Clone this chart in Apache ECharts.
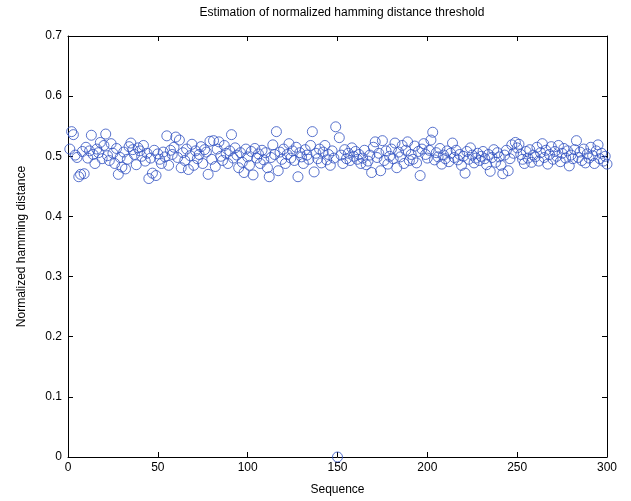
<!DOCTYPE html>
<html>
<head>
<meta charset="utf-8">
<script src="https://cdn.jsdelivr.net/npm/echarts@6/dist/echarts.min.js"></script>
<style>
  html, body { margin: 0; padding: 0; background: #fff; }
  #chart { width: 631px; height: 501px; }
</style>
</head>
<body>
<div id="chart"></div>
<script>
// 标题与坐标轴
const titleText = 'Estimation of normalized hamming distance threshold'
const xName = 'Sequence'
const yName = 'Normalized hamming distance'
const xTicks = [0, 50, 100, 150, 200, 250, 300]
const yTicks = [0, 0.1, 0.2, 0.3, 0.4, 0.5, 0.6, 0.7]

// 每个序列的归一化汉明距离 (序号 1..300)
const distances = [
  0.512, 0.541, 0.536, 0.502, 0.498, 0.466, 0.470, 0.508, 0.471, 0.515, 0.497, 0.509, 0.535, 0.503, 0.488, 0.512, 0.506, 0.523, 0.496, 0.518,
  0.537, 0.501, 0.493, 0.521, 0.505, 0.488, 0.513, 0.470, 0.498, 0.482, 0.507, 0.479, 0.495, 0.516, 0.522, 0.511, 0.503, 0.486, 0.514, 0.509,
  0.500, 0.518, 0.492, 0.505, 0.463, 0.497, 0.472, 0.510, 0.468, 0.504, 0.495, 0.488, 0.507, 0.499, 0.534, 0.485, 0.510, 0.503, 0.515, 0.532,
  0.498, 0.527, 0.481, 0.506, 0.493, 0.512, 0.478, 0.501, 0.520, 0.485, 0.509, 0.496, 0.503, 0.516, 0.488, 0.511, 0.507, 0.470, 0.525, 0.495,
  0.526, 0.483, 0.512, 0.524, 0.500, 0.493, 0.518, 0.505, 0.488, 0.509, 0.536, 0.497, 0.514, 0.502, 0.481, 0.506, 0.490, 0.473, 0.512, 0.499,
  0.485, 0.508, 0.469, 0.513, 0.497, 0.504, 0.488, 0.510, 0.494, 0.506, 0.481, 0.466, 0.498, 0.519, 0.503, 0.541, 0.476, 0.507, 0.495, 0.512,
  0.488, 0.503, 0.521, 0.497, 0.509, 0.493, 0.515, 0.466, 0.506, 0.499, 0.488, 0.511, 0.502, 0.495, 0.518, 0.541, 0.474, 0.505, 0.496, 0.512,
  0.489, 0.507, 0.518, 0.494, 0.503, 0.485, 0.509, 0.497, 0.549, 0.000, 0.531, 0.502, 0.488, 0.511, 0.496, 0.505, 0.493, 0.514, 0.500, 0.508,
  0.495, 0.503, 0.488, 0.497, 0.510, 0.486, 0.492, 0.502, 0.473, 0.515, 0.524, 0.498, 0.505, 0.476, 0.526, 0.493, 0.509, 0.487, 0.500, 0.512,
  0.496, 0.522, 0.481, 0.507, 0.499, 0.518, 0.488, 0.510, 0.524, 0.493, 0.503, 0.495, 0.517, 0.489, 0.508, 0.468, 0.512, 0.521, 0.503, 0.497,
  0.510, 0.527, 0.540, 0.494, 0.506, 0.499, 0.513, 0.487, 0.502, 0.496, 0.509, 0.491, 0.505, 0.522, 0.498, 0.510, 0.494, 0.503, 0.485, 0.500,
  0.472, 0.508, 0.495, 0.514, 0.502, 0.489, 0.497, 0.505, 0.493, 0.500, 0.508, 0.496, 0.486, 0.503, 0.475, 0.498, 0.511, 0.490, 0.506, 0.499,
  0.485, 0.471, 0.502, 0.510, 0.476, 0.496, 0.519, 0.505, 0.523, 0.514, 0.520, 0.503, 0.495, 0.488, 0.508, 0.497, 0.511, 0.490, 0.502, 0.499,
  0.515, 0.492, 0.506, 0.521, 0.498, 0.510, 0.487, 0.503, 0.516, 0.495, 0.508, 0.500, 0.518, 0.491, 0.505, 0.513, 0.497, 0.509, 0.484, 0.502,
  0.496, 0.511, 0.526, 0.498, 0.507, 0.493, 0.512, 0.489, 0.504, 0.497, 0.515, 0.501, 0.488, 0.509, 0.519, 0.496, 0.505, 0.492, 0.500, 0.487
]

const chart = echarts.init(document.getElementById('chart'))
const font = 'Liberation Sans, Arial, sans-serif'

// 配对 (序号, 距离)
let points = distances.map((d, i) => [i + 1, d])

let axisCommon = {
  type: 'value',
  axisLine: { show: true, onZero: false, lineStyle: { color: '#000', width: 1 } },
  axisTick: { show: true, inside: true, length: 5, lineStyle: { color: '#000' } },
  splitLine: { show: false }
}

let option = {
  backgroundColor: '#fff',
  animation: false,
  title: {
    text: titleText,
    left: 337,
    top: 2,
    textAlign: 'center',
    textStyle: { fontFamily: font, fontSize: 12, fontWeight: 'normal', color: '#000' }
  },
  grid: { left: 68, right: 24, top: 36, bottom: 42 },
  xAxis: [
    Object.assign({}, axisCommon, {
      position: 'bottom',
      min: xTicks[0], max: xTicks[xTicks.length - 1], interval: 50,
      name: xName, nameLocation: 'middle', nameGap: 27,
      nameTextStyle: { fontFamily: font, fontSize: 12, color: '#000' },
      axisLabel: { color: '#000', fontFamily: font, fontSize: 12, margin: 5 }
    }),
    Object.assign({}, axisCommon, {
      position: 'top',
      min: xTicks[0], max: xTicks[xTicks.length - 1], interval: 50,
      axisLabel: { show: false }
    })
  ],
  yAxis: [
    Object.assign({}, axisCommon, {
      position: 'left',
      min: yTicks[0], max: yTicks[yTicks.length - 1], interval: 0.1,
      name: yName, nameLocation: 'middle', nameGap: 40,
      nameTextStyle: { fontFamily: font, fontSize: 12, color: '#000' },
      axisLabel: { color: '#000', fontFamily: font, fontSize: 12, margin: 6,
        formatter: v => String(Math.round(v * 10) / 10) }
    }),
    Object.assign({}, axisCommon, {
      position: 'right',
      min: yTicks[0], max: yTicks[yTicks.length - 1], interval: 0.1,
      axisLabel: { show: false }
    })
  ],
  series: [{
    type: 'scatter',
    data: points,
    symbol: 'circle',
    symbolSize: 10,
    itemStyle: { color: 'rgba(0,0,0,0)', borderColor: '#2f50c0', borderWidth: 1 },
    clip: false
  }]
}

chart.setOption(option)
</script>
</body>
</html>
